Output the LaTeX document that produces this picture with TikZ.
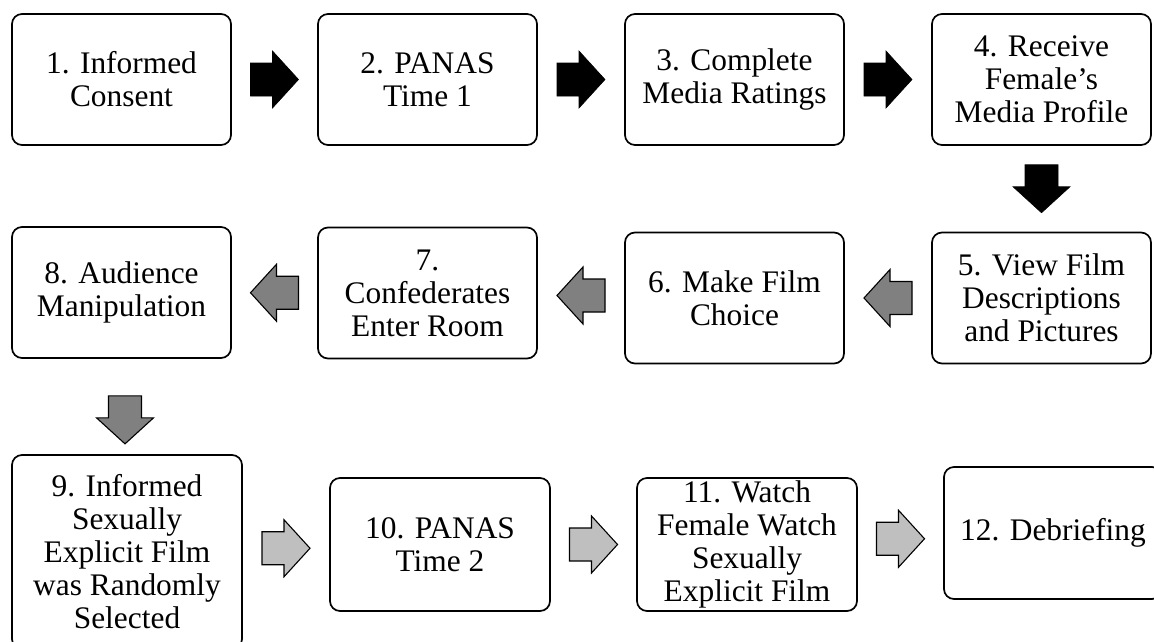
\documentclass[tikz,border=0pt]{standalone}
\usepackage{fontspec}
\setmainfont{Liberation Serif}
\usetikzlibrary{calc}

\definecolor{arrowgray}{RGB}{128,128,128}
\definecolor{arrowlight}{RGB}{191,191,191}

\tikzset{blockarrow/.pic={
   \path[pic actions] (-24,-16.5) -- (-2,-16.5) -- (-2,-28.5) -- (24,0)
      -- (-2,28.5) -- (-2,16.5) -- (-24,16.5) -- cycle;}}

\begin{document}
\begin{tikzpicture}[x=1pt, y=-1pt,
   stepbox/.style={draw=black, line width=1.7pt, rounded corners=10pt, fill=white,
      align=center, inner sep=0pt, minimum width=219pt, minimum height=131pt,
      font=\fontsize{31.4}{33}\selectfont},
   darkarrow/.style={fill=black, draw=black, line width=0.6pt},
   midarrow/.style={fill=arrowgray, draw=black, line width=1.1pt},
   lightarrow/.style={fill=arrowlight, draw=black, line width=1.1pt}]
   \useasboundingbox (0,0) rectangle (1154,641);
   \clip (0,0) rectangle (1154,641);

   % first row
   \node[stepbox] (b1) at (121.5,79.5) {1. Informed\\Consent};
   \node[stepbox] (b2) at (427.5,79.5) {2. PANAS\\Time 1};
   \node[stepbox] (b3) at (734.5,79.5) {3. Complete\\Media Ratings};
   \node[stepbox] (b4) at (1041.5,79.5) {4. Receive\\Female’s\\Media Profile};

   % second row
   \node[stepbox] (b5) at (1041.5,298) {5. View Film\\Descriptions\\and Pictures};
   \node[stepbox] (b6) at (734.5,298) {6. Make Film\\Choice};
   \node[stepbox] (b7) at (427.5,293) {7.\\Confederates\\Enter Room};
   \node[stepbox] (b8) at (121.5,292.5) {8. Audience\\Manipulation};

   % third row
   \node[stepbox, minimum width=230pt, minimum height=194pt] (b9) at (127,552)
      {9. Informed\\Sexually\\Explicit Film\\was Randomly\\Selected};
   \node[stepbox, minimum width=220pt, minimum height=133pt] (b10) at (440,544.5) {10. PANAS\\Time 2};
   \node[stepbox, minimum width=220pt, minimum height=133pt] (b11) at (747,544.5)
      {11. Watch\\Female Watch\\Sexually\\Explicit Film};
   \node[stepbox, minimum width=218pt, minimum height=132pt] (b12) at (1053,533) {12. Debriefing};

   \pic[darkarrow] at ($(b1.east)!0.5!(b2.west)$) {blockarrow};
   \pic[darkarrow] at ($(b2.east)!0.5!(b3.west)$) {blockarrow};
   \pic[darkarrow] at ($(b3.east)!0.5!(b4.west)$) {blockarrow};
   \pic[darkarrow, rotate=-90] at ($(b4.south)!0.5!(b5.north)$) {blockarrow};

   \pic[midarrow, rotate=180] at ($(b5.west)!0.5!(b6.east)$) {blockarrow};
   \pic[midarrow, rotate=180] at ($(b6.west)!0.5!(b7.east)$) {blockarrow};
   \pic[midarrow, rotate=180] at ($(b7.west)!0.5!(b8.east)$) {blockarrow};
   \pic[midarrow, rotate=-90] at ($(b8.south)!0.64!(b9.north)$) {blockarrow};

   \pic[lightarrow] at ($(b9.east)!0.5!(b10.west)$) {blockarrow};
   \pic[lightarrow] at ($(b10.east)!0.5!(b11.west)$) {blockarrow};
   \pic[lightarrow] at ($(b11.east)!0.5!(b12.west)$) {blockarrow};
\end{tikzpicture}
\end{document}
